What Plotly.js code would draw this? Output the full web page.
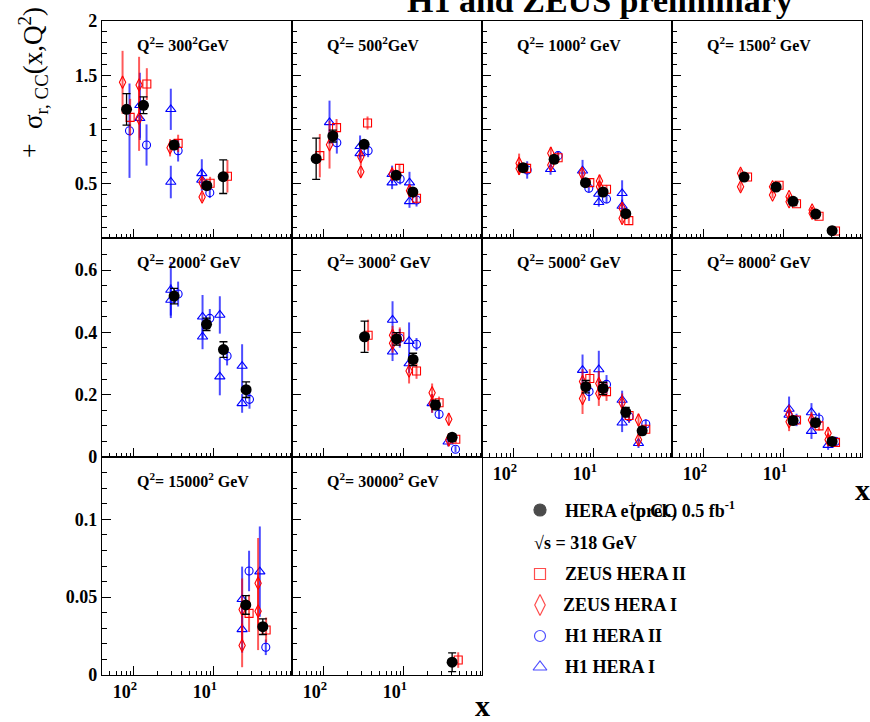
<!DOCTYPE html>
<html>
<head>
<meta charset="utf-8">
<script src="https://cdn.plot.ly/plotly-3.0.1.min.js"></script>
<style>html,body{margin:0;padding:0;background:#fff;}#plot{width:870px;height:722px;}</style>
</head>
<body>
<div id="plot"></div>
<script>
// ---------------- DATA ----------------
const Q2 = ['300', '500', '1000', '1500', '2000', '3000', '5000', '8000', '15000', '30000'];
const xTickVals = [0.01, 0.1];
const xTickText = ['10<sup>2</sup>', '10<sup>1</sup>'];

// HERA combined (prel.) e+p CC
const heraX = [
  [0.00811, 0.01321, 0.0319, 0.0818, 0.131],
  [0.00802, 0.01296, 0.0319, 0.0802, 0.1296],
  [0.01306, 0.0319, 0.0787, 0.1306, 0.251],
  [0.0319, 0.0802, 0.1306, 0.251, 0.402],
  [0.0319, 0.0811, 0.1321, 0.2535],
  [0.0323, 0.0811, 0.1306, 0.2489, 0.402],
  [0.0794, 0.1306, 0.251, 0.402],
  [0.1306, 0.2489, 0.402],
  [0.251, 0.41],
  [0.402]
];
const heraY = [
  [1.186, 1.223, 0.857, 0.482, 0.565],
  [0.731, 0.94, 0.863, 0.578, 0.424],
  [0.648, 0.725, 0.51, 0.424, 0.224],
  [0.562, 0.47, 0.338, 0.221, 0.067],
  [0.5165, 0.426, 0.345, 0.216],
  [0.386, 0.379, 0.313, 0.167, 0.063],
  [0.2256, 0.22, 0.144, 0.084],
  [0.117, 0.11, 0.05],
  [0.045, 0.031],
  [0.0082]
];
const heraE = [
  [0.145, 0.077, 0.035, 0.03, 0.155],
  [0.19, 0.055, 0.03, 0.025, 0.025],
  [0.03, 0.03, 0.025, 0.025, 0.02],
  [0.025, 0.02, 0.02, 0.015, 0.01],
  [0.025, 0.02, 0.025, 0.025],
  [0.05, 0.02, 0.02, 0.015, 0.01],
  [0.02, 0.02, 0.015, 0.012],
  [0.012, 0.012, 0.008],
  [0.006, 0.005],
  [0.006]
];

// ZEUS HERA II
const zeus2X = [
  [0.00899, 0.01454, 0.0358, 0.0899, 0.148],
  [0.00891, 0.01442, 0.0352, 0.0883, 0.1442],
  [0.01445, 0.0358, 0.0891, 0.1442, 0.274],
  [0.0352, 0.0873, 0.1442, 0.276, 0.443],
  [],
  [0.0358, 0.0891, 0.1442, 0.276, 0.4467],
  [0.0891, 0.1442, 0.276, 0.4467],
  [0.1442, 0.276, 0.443],
  [0.276, 0.451],
  [0.479]
];
const zeus2Y = [
  [1.112, 1.419, 0.872, 0.504, 0.569],
  [0.759, 1.017, 1.06, 0.642, 0.366],
  [0.642, 0.74, 0.51, 0.449, 0.16],
  [0.562, 0.486, 0.316, 0.2, 0.065],
  [],
  [0.391, 0.386, 0.276, 0.174, 0.057],
  [0.252, 0.21, 0.133, 0.089],
  [0.119, 0.1, 0.047],
  [0.0396, 0.0289],
  [0.0096]
];
const zeus2E = [
  [0.17, 0.146, 0.08, 0.06, 0.15],
  [0.2, 0.08, 0.06, 0.04, 0.05],
  [0.05, 0.05, 0.04, 0.04, 0.03],
  [0.03, 0.03, 0.025, 0.02, 0.01],
  [],
  [0.05, 0.03, 0.025, 0.02, 0.012],
  [0.03, 0.03, 0.02, 0.015],
  [0.015, 0.015, 0.01],
  [0.012, 0.008],
  [0.005]
];

// ZEUS HERA I
const zeus1X = [
  [0.00723, 0.01164, 0.01164, 0.0284, 0.0714, 0.0714],
  [0.01178, 0.029, 0.029, 0.0714, 0.1178],
  [0.01164, 0.01164, 0.029, 0.029, 0.0714, 0.1178, 0.1178, 0.226, 0.226],
  [0.0288, 0.0288, 0.0723, 0.0723, 0.1164, 0.1164, 0.226, 0.226],
  [],
  [0.0723, 0.0723, 0.1164, 0.226, 0.226, 0.365, 0.365],
  [0.0723, 0.0723, 0.1155, 0.1155, 0.226, 0.362, 0.362],
  [0.1164, 0.1164, 0.2218, 0.358, 0.358],
  [0.226, 0.226, 0.358, 0.358],
  []
];
const zeus1Y = [
  [1.435, 1.41, 1.103, 0.832, 0.51, 0.378],
  [0.86, 0.749, 0.611, 0.59, 0.436],
  [0.688, 0.64, 0.78, 0.673, 0.596, 0.525, 0.473, 0.274, 0.181],
  [0.596, 0.473, 0.473, 0.396, 0.381, 0.335, 0.258, 0.228],
  [],
  [0.391, 0.365, 0.276, 0.206, 0.172, 0.121, 0.055],
  [0.242, 0.188, 0.236, 0.204, 0.174, 0.119, 0.055],
  [0.138, 0.113, 0.119, 0.076, 0.055],
  [0.042, 0.019, 0.059, 0.041],
  []
];
const zeus1E = [
  [0.29, 0.26, 0.3, 0.08, 0.05, 0.04],
  [0.22, 0.08, 0.05, 0.06, 0.06],
  [0.09, 0.06, 0.06, 0.06, 0.05, 0.06, 0.05, 0.05, 0.04],
  [0.04, 0.04, 0.03, 0.03, 0.03, 0.03, 0.03, 0.03],
  [],
  [0.03, 0.03, 0.04, 0.03, 0.03, 0.02, 0.02],
  [0.04, 0.05, 0.04, 0.04, 0.03, 0.02, 0.02],
  [0.03, 0.03, 0.025, 0.02, 0.02],
  [0.02, 0.014, 0.029, 0.025],
  []
];

// H1 HERA II
const h12X = [
  [0.00883, 0.01442, 0.0358, 0.0891],
  [0.01454, 0.0358, 0.0899, 0.1442],
  [0.01469, 0.0358, 0.0866, 0.1442],
  [],
  [0.0358, 0.0891, 0.1466, 0.2793],
  [0.0891, 0.1442, 0.276, 0.443],
  [0.0873, 0.1442, 0.276, 0.4467],
  [0.1442, 0.276, 0.443],
  [0.276, 0.4467],
  []
];
const h12Y = [
  [0.989, 0.857, 0.805, 0.418],
  [0.878, 0.805, 0.544, 0.35],
  [0.627, 0.759, 0.458, 0.359],
  [],
  [0.523, 0.445, 0.324, 0.185],
  [0.381, 0.362, 0.137, 0.025],
  [0.21, 0.233, 0.129, 0.106],
  [0.119, 0.122, 0.05],
  [0.0668, 0.0178],
  []
];
const h12E = [
  [0.435, 0.19, 0.1, 0.05],
  [0.1, 0.06, 0.05, 0.06],
  [0.08, 0.04, 0.04, 0.04],
  [],
  [0.04, 0.03, 0.03, 0.03],
  [0.03, 0.02, 0.015, 0.01],
  [0.03, 0.03, 0.02, 0.015],
  [0.02, 0.02, 0.01],
  [0.013, 0.005],
  []
];

// H1 HERA I
const h11X = [
  [0.01189, 0.01189, 0.029, 0.029, 0.0708, 0.0708],
  [0.01178, 0.0284, 0.0284, 0.0714, 0.0714, 0.1178, 0.1178],
  [0.0288, 0.0723, 0.1155, 0.1155, 0.226, 0.226],
  [],
  [0.029, 0.029, 0.0723, 0.0723, 0.1189, 0.1189, 0.226, 0.226],
  [0.0723, 0.0723, 0.1164, 0.1164, 0.226, 0.358],
  [0.0723, 0.1155, 0.226, 0.226, 0.362],
  [0.1164, 0.1164, 0.2218, 0.2218, 0.358],
  [0.226, 0.226, 0.376],
  []
];
const h11Y = [
  [1.223, 1.103, 1.186, 0.516, 0.596, 0.535],
  [1.066, 0.845, 0.78, 0.587, 0.51, 0.51, 0.338],
  [0.633, 0.62, 0.406, 0.329, 0.412, 0.295],
  [],
  [0.536, 0.504, 0.45, 0.386, 0.456, 0.258, 0.292, 0.172],
  [0.44, 0.338, 0.372, 0.3, 0.172, 0.049],
  [0.279, 0.281, 0.183, 0.11, 0.044],
  [0.154, 0.135, 0.143, 0.083, 0.038],
  [0.0486, 0.0293, 0.0664],
  []
];
const h11E = [
  [0.3, 0.2, 0.19, 0.15, 0.13, 0.1],
  [0.2, 0.1, 0.06, 0.08, 0.06, 0.1, 0.06],
  [0.05, 0.1, 0.04, 0.04, 0.12, 0.06],
  [],
  [0.09, 0.05, 0.07, 0.04, 0.06, 0.06, 0.07, 0.03],
  [0.06, 0.03, 0.06, 0.03, 0.03, 0.015],
  [0.05, 0.06, 0.03, 0.03, 0.015],
  [0.04, 0.03, 0.03, 0.025, 0.015],
  [0.021, 0.015, 0.029],
  []
];

const legendNames = ['HERA', 'ZEUS HERA II', 'ZEUS HERA I', 'H1 HERA II', 'H1 HERA I'];

// ---------------- LAYOUT ----------------
const W = 870, H = 722;
const FONT = 'Liberation Serif, Times New Roman, serif';
const colsPx = [[102, 292], [292, 482], [482, 672], [672, 862]];
const rowsPx = [[21, 238], [238, 457], [457, 675]];
const rowRange = [[0, 2], [0, 0.703], [0, 0.14]];
const rowTicks = [[0.5, 1, 1.5, 2], [0, 0.2, 0.4, 0.6], [0, 0.05, 0.1]];
const rowTickText = [['0.5', '1', '1.5', '2'], ['0', '0.2', '0.4', '0.6'], ['0', '0.05', '0.1']];
const rowMinor = [0.1, 0.05, 0.01];
const showXLabels = [false, false, false, false, false, false, true, true, true, true];

const RED = 'rgb(255,0,0)', BLUE = 'rgb(0,0,255)';
const REDBAR = 'rgba(255,0,0,0.65)', BLUEBAR = 'rgba(0,0,255,0.7)';

const xMinor = [];
[0.001, 0.01, 0.1].forEach(d => { for (let k = 2; k <= 9; k++) { const v = d * k; if (v > 0.004 && v < 0.95) xMinor.push(v); } });

const traces = [];
const layout = {
  width: W, height: H,
  margin: {l: 0, r: 0, t: 0, b: 0},
  paper_bgcolor: '#fff', plot_bgcolor: 'rgba(0,0,0,0)',
  showlegend: false,
  font: {family: FONT, color: '#000'},
  annotations: [],
};

function series(i, xs, ys, es, sym, color, barColor, size, cap, thick, lw) {
  if (!xs[i].length) return;
  traces.push({
    type: 'scatter', mode: 'markers',
    x: xs[i], y: ys[i],
    xaxis: 'x' + (i + 1), yaxis: 'y' + (i + 1),
    marker: {symbol: sym, color: color, size: size, line: {color: color, width: lw}},
    error_y: {type: 'data', array: es[i], visible: true, color: barColor, thickness: thick, width: cap},
    cliponaxis: true, hoverinfo: 'skip'
  });
}

for (let i = 0; i < Q2.length; i++) {
  const r = Math.floor(i / 4), c = i % 4;
  const xa = 'xaxis' + (i + 1), ya = 'yaxis' + (i + 1);
  const yMinorVals = [];
  for (let v = rowMinor[r]; v < rowRange[r][1] - 1e-9; v += rowMinor[r]) yMinorVals.push(+v.toFixed(4));
  layout[xa] = {
    domain: [colsPx[c][0] / W, colsPx[c][1] / W],
    anchor: 'y' + (i + 1),
    type: 'log', range: [Math.log10(0.004), Math.log10(0.95)],
    showgrid: false, zeroline: false,
    showline: true, mirror: true, linecolor: '#000', linewidth: 1.2,
    ticks: 'inside', ticklen: 9, tickwidth: 1, tickcolor: '#000',
    tickmode: 'array', tickvals: xTickVals, ticktext: xTickText,
    showticklabels: showXLabels[i],
    ticklabelshift: -9,
    tickfont: {family: FONT, size: 18, weight: 'bold', color: '#000'},
    minor: {tickmode: 'array', tickvals: xMinor, ticks: 'inside', ticklen: 4, tickwidth: 1, tickcolor: '#000', showgrid: false},
    fixedrange: true
  };
  layout[ya] = {
    domain: [(H - rowsPx[r][1]) / H, (H - rowsPx[r][0]) / H],
    anchor: 'x' + (i + 1),
    range: rowRange[r],
    showgrid: false, zeroline: false,
    showline: true, mirror: true, linecolor: '#000', linewidth: 1.2,
    ticks: 'inside', ticklen: 9, tickwidth: 1, tickcolor: '#000',
    tickmode: 'array', tickvals: rowTicks[r], ticktext: rowTickText[r],
    showticklabels: c === 0,
    tickfont: {family: FONT, size: 18, weight: 'bold', color: '#000'},
    minor: {tickmode: 'array', tickvals: yMinorVals, ticks: 'inside', ticklen: 5, tickwidth: 1, tickcolor: '#000', showgrid: false},
    fixedrange: true
  };

  series(i, h11X, h11Y, h11E, 'triangle-up-open', BLUE, BLUEBAR, 9, 0, 2, 1.1);
  series(i, h12X, h12Y, h12E, 'circle-open', BLUE, BLUEBAR, 8, 0, 2, 1.1);
  series(i, zeus1X, zeus1Y, zeus1E, 'diamond-tall-open', RED, REDBAR, 9, 0, 2, 1.1);
  series(i, zeus2X, zeus2Y, zeus2E, 'square-open', RED, REDBAR, 8, 0, 2, 1.1);
  series(i, heraX, heraY, heraE, 'circle', '#000', '#000', 11, 4, 1.3, 0);

  const gap = i < 2 ? '' : ' ';
  layout.annotations.push({
    xref: 'paper', yref: 'paper',
    x: (colsPx[c][0] + 33) / W, y: (H - (rowsPx[r][0] + 23)) / H,
    xanchor: 'left', yanchor: 'middle', showarrow: false,
    text: 'Q<sup>2</sup>= ' + Q2[i] + '<sup>2</sup>' + gap + 'GeV',
    font: {family: FONT, size: 16, weight: 'bold', color: '#000'}
  });
}

// Legend on an invisible pixel-space axis
layout.xaxis11 = {domain: [482 / W, 1], anchor: 'y11', range: [482, 870], visible: false, fixedrange: true};
layout.yaxis11 = {domain: [0, (H - 457) / H], anchor: 'x11', range: [722, 457], visible: false, fixedrange: true};
const legY = [510, 574, 605, 636, 667];
traces.push({
  type: 'scatter', mode: 'markers', xaxis: 'x11', yaxis: 'y11',
  x: [540, 540, 540, 540, 540], y: legY,
  marker: {
    symbol: ['circle', 'square-open', 'diamond-tall-open', 'circle-open', 'triangle-up-open'],
    size: [12, 11, 15, 11, 12],
    color: ['#000', RED, RED, BLUE, BLUE],
    line: {color: ['#000', RED, RED, BLUE, BLUE], width: 1.2}
  },
  hoverinfo: 'skip'
});
const legFont = {family: FONT, size: 18, weight: 'bold', color: '#000'};
function pxAnn(text, x, y, xanchor, font, extra) {
  layout.annotations.push(Object.assign({
    xref: 'paper', yref: 'paper', x: x / W, y: (H - y) / H,
    xanchor: xanchor, yanchor: 'middle', showarrow: false, text: text, font: font
  }, extra || {}));
}
pxAnn('HERA e<sup>+</sup>p CC', 563, 510, 'left', legFont);
pxAnn('(prel.) 0.5 fb<sup>-1</sup>', 628, 510, 'left', legFont);
pxAnn('√s = 318 GeV', 532, 543, 'left', legFont);
pxAnn(legendNames[1], 563, 574, 'left', legFont);
pxAnn(legendNames[2], 561, 605, 'left', legFont);
pxAnn(legendNames[3], 563, 636, 'left', legFont);
pxAnn(legendNames[4], 563, 667, 'left', legFont);

// Titles
pxAnn('H1 and ZEUS preliminary', 600, 1, 'center', {family: FONT, size: 34, weight: 'bold', color: '#000'});
pxAnn('σ<sub>r, CC</sub>(x,Q<sup>2</sup>)', 33, 68, 'center', {family: FONT, size: 27, color: '#000'}, {textangle: -90});
pxAnn('+', 29, 150, 'center', {family: FONT, size: 26, color: '#000'});
pxAnn('x', 862, 490, 'center', {family: FONT, size: 30, weight: 'bold', color: '#000'});
pxAnn('x', 482, 705, 'center', {family: FONT, size: 30, weight: 'bold', color: '#000'});

Plotly.newPlot('plot', traces, layout, {staticPlot: true, displayModeBar: false});
</script>
</body>
</html>
